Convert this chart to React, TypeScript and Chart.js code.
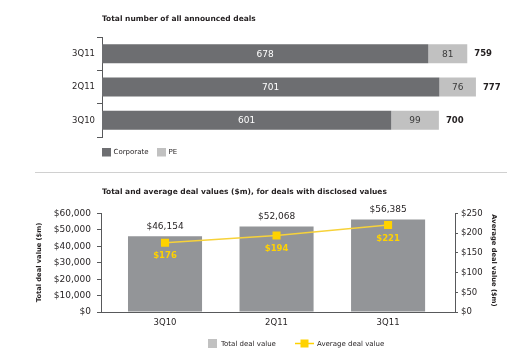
import React, { useEffect, useRef } from 'react';
import { Chart, registerables } from 'chart.js';

Chart.register(...registerables);

// ---- Data ----
const dealQuarters = ['3Q11', '2Q11', '3Q10'];
const corporateDeals = [678, 701, 601];
const peDeals = [81, 76, 99];

const valueQuarters = ['3Q10', '2Q11', '3Q11'];
const totalDealValue = [46154, 52068, 56385];
const averageDealValue = [176, 194, 221];

const leftTicks = [0, 10000, 20000, 30000, 40000, 50000, 60000];
const rightTicks = [0, 50, 100, 150, 200, 250];

const FONT = '"DejaVu Sans", Verdana, sans-serif';
const DARK = '#6d6e71';
const LIGHT = '#c1c1c1';
const BAR = '#939598';
const YELLOW = '#ffd200';
const AXIS = '#58595b';
const TEXT = '#231f20';

const fmt = (v: number) => '$' + v.toLocaleString('en-US');

const topDecor = {
  id: 'topDecor',
  afterDraw(chart: any) {
    const ctx = chart.ctx;
    const a = chart.chartArea;
    ctx.save();
    ctx.textBaseline = 'middle';
    ctx.textAlign = 'left';
    ctx.fillStyle = TEXT;
    ctx.font = `bold 7.5px ${FONT}`;
    ctx.fillText('Total number of all announced deals', a.left, 19);

    const m0 = chart.getDatasetMeta(0);
    const m1 = chart.getDatasetMeta(1);
    ctx.font = `9px ${FONT}`;
    ctx.textAlign = 'center';
    m0.data.forEach((el: any, i: number) => {
      const p = el.getProps(['x', 'y', 'base'], true);
      ctx.fillStyle = '#ffffff';
      ctx.fillText(String(corporateDeals[i]), (p.x + p.base) / 2, p.y + 0.5);
    });
    m1.data.forEach((el: any, i: number) => {
      const p = el.getProps(['x', 'y', 'base'], true);
      ctx.fillStyle = '#3a3a3a';
      ctx.fillText(String(peDeals[i]), (p.x + p.base) / 2, p.y + 0.5);
    });
    ctx.font = `bold 8.5px ${FONT}`;
    ctx.textAlign = 'left';
    ctx.fillStyle = TEXT;
    m1.data.forEach((el: any, i: number) => {
      const p = el.getProps(['x', 'y'], true);
      ctx.fillText(String(corporateDeals[i] + peDeals[i]), p.x + 7, p.y + 0.5);
    });

    // legend
    ctx.font = `7px ${FONT}`;
    ctx.fillStyle = DARK;
    ctx.fillRect(a.left, 148, 9, 8.5);
    ctx.fillStyle = TEXT;
    ctx.fillText('Corporate', a.left + 11.5, 152.5);
    ctx.fillStyle = LIGHT;
    ctx.fillRect(a.left + 55, 148, 9, 8.5);
    ctx.fillStyle = TEXT;
    ctx.fillText('PE', a.left + 66.5, 152.5);
    ctx.restore();
  },
};

const bottomDecor = {
  id: 'bottomDecor',
  afterDraw(chart: any) {
    const ctx = chart.ctx;
    const a = chart.chartArea;
    ctx.save();
    ctx.textBaseline = 'middle';
    ctx.textAlign = 'left';
    ctx.fillStyle = TEXT;
    ctx.font = `bold 7.5px ${FONT}`;
    ctx.fillText('Total and average deal values ($m), for deals with disclosed values', a.left + 1, 20);

    // axis titles
    ctx.font = `bold 6.7px ${FONT}`;
    ctx.textAlign = 'center';
    ctx.save();
    ctx.translate(39, 90.5);
    ctx.rotate(-Math.PI / 2);
    ctx.fillText('Total deal value ($m)', 0, 0);
    ctx.restore();
    ctx.save();
    ctx.translate(494, 88.5);
    ctx.rotate(Math.PI / 2);
    ctx.fillText('Average deal value ($m)', 0, 0);
    ctx.restore();

    // bar labels
    const mb = chart.getDatasetMeta(1);
    ctx.font = `9px ${FONT}`;
    ctx.fillStyle = TEXT;
    mb.data.forEach((el: any, i: number) => {
      const p = el.getProps(['x', 'y'], true);
      ctx.fillText(fmt(totalDealValue[i]), p.x, p.y - 9.5);
    });
    // line labels
    const ml = chart.getDatasetMeta(0);
    ctx.font = `bold 8.5px ${FONT}`;
    ctx.fillStyle = YELLOW;
    ml.data.forEach((el: any, i: number) => {
      const p = el.getProps(['x', 'y'], true);
      ctx.fillText(fmt(averageDealValue[i]), p.x, p.y + 13.5);
    });

    // legend
    const ly = 171.5;
    ctx.font = `7px ${FONT}`;
    ctx.textAlign = 'left';
    ctx.fillStyle = LIGHT;
    ctx.fillRect(208, ly - 4.5, 9, 9);
    ctx.fillStyle = TEXT;
    ctx.fillText('Total deal value', 221, ly + 0.5);
    ctx.strokeStyle = YELLOW;
    ctx.lineWidth = 1.5;
    ctx.beginPath();
    ctx.moveTo(295, ly);
    ctx.lineTo(314, ly);
    ctx.stroke();
    ctx.fillStyle = YELLOW;
    ctx.fillRect(300.5, ly - 4, 8, 8);
    ctx.fillStyle = TEXT;
    ctx.fillText('Average deal value', 317, ly + 0.5);
    ctx.restore();
  },
};

function TopChart() {
  const ref = useRef<HTMLCanvasElement>(null);
  useEffect(() => {
    const chart = new Chart(ref.current!, {
      type: 'bar',
      data: {
        labels: dealQuarters,
        datasets: [
          { label: 'Corporate', data: corporateDeals, backgroundColor: DARK, categoryPercentage: 1, barPercentage: 0.57 },
          { label: 'PE', data: peDeals, backgroundColor: LIGHT, categoryPercentage: 1, barPercentage: 0.57 },
        ],
      },
      options: {
        indexAxis: 'y',
        animation: false,
        responsive: false,
        events: [],
        layout: { padding: { top: 37, bottom: 35, left: 0, right: 29 } },
        plugins: { legend: { display: false }, tooltip: { enabled: false }, title: { display: false } },
        scales: {
          x: { stacked: true, display: false, min: 0, max: 800 },
          y: {
            stacked: true,
            afterFit: (s: any) => { s.width = 102; },
            grid: { drawOnChartArea: false, drawTicks: true, tickLength: 5, color: AXIS, offset: true },
            border: { display: true, color: AXIS, width: 1 },
            ticks: { color: TEXT, font: { family: FONT, size: 8.5 }, padding: 2 },
          },
        },
      },
      plugins: [topDecor],
    } as any);
    return () => chart.destroy();
  }, []);
  return <canvas ref={ref} width={516} height={172} style={{ position: 'absolute', left: 0, top: 0, width: 516, height: 172 }} />;
}

function BottomChart() {
  const ref = useRef<HTMLCanvasElement>(null);
  useEffect(() => {
    const chart = new Chart(ref.current!, {
      type: 'bar',
      data: {
        datasets: [
          {
            type: 'line',
            label: 'Average deal value',
            data: averageDealValue.map((v, i) => ({ x: i, y: v })),
            yAxisID: 'y1',
            borderColor: '#f7d23a',
            backgroundColor: YELLOW,
            borderWidth: 1.5,
            pointStyle: 'rect',
            pointRadius: 5.7,
            pointBackgroundColor: YELLOW,
            pointBorderColor: YELLOW,
            pointBorderWidth: 0,
            order: 0,
          },
          {
            type: 'bar',
            label: 'Total deal value',
            data: totalDealValue.map((v, i) => ({ x: i, y: v })),
            yAxisID: 'y',
            backgroundColor: BAR,
            categoryPercentage: 1,
            barPercentage: 0.664,
            order: 1,
          },
        ],
      },
      options: {
        animation: false,
        responsive: false,
        events: [],
        layout: { padding: { top: 41.5, bottom: 0, left: 0, right: 0 } },
        plugins: { legend: { display: false }, tooltip: { enabled: false }, title: { display: false } },
        scales: {
          x: {
            type: 'linear',
            min: -0.574,
            max: 2.6,
            offset: false,
            afterFit: (s: any) => { s.height = 41; },
            afterBuildTicks: (s: any) => { s.ticks = valueQuarters.map((_, i) => ({ value: i })); },
            grid: { display: false, drawTicks: false, offset: false },
            border: { display: true, color: AXIS, width: 1 },
            ticks: {
              autoSkip: false,
              color: TEXT,
              font: { family: FONT, size: 8.5 },
              padding: 6,
              maxRotation: 0,
              callback: (v: any) => valueQuarters[v] ?? '',
            },
          },
          y: {
            position: 'left',
            min: 0,
            max: 60000,
            afterFit: (s: any) => { s.width = 101; },
            afterBuildTicks: (s: any) => { s.ticks = leftTicks.map((v) => ({ value: v })); },
            grid: { drawOnChartArea: false, drawTicks: true, tickLength: 4, color: AXIS },
            border: { display: true, color: AXIS, width: 1 },
            ticks: { color: TEXT, font: { family: FONT, size: 9 }, padding: 6, callback: (v: any) => fmt(Number(v)) },
          },
          y1: {
            position: 'right',
            min: 0,
            max: 250,
            afterFit: (s: any) => { s.width = 61; },
            afterBuildTicks: (s: any) => { s.ticks = rightTicks.map((v) => ({ value: v })); },
            grid: { drawOnChartArea: false, drawTicks: true, tickLength: 3, color: AXIS },
            border: { display: true, color: AXIS, width: 1 },
            ticks: { color: TEXT, font: { family: FONT, size: 8.5 }, padding: 3, callback: (v: any) => fmt(Number(v)) },
          },
        },
      },
      plugins: [bottomDecor],
    } as any);
    return () => chart.destroy();
  }, []);
  return <canvas ref={ref} width={516} height={181} style={{ position: 'absolute', left: 0, top: 172, width: 516, height: 181 }} />;
}

export default function App() {
  return (
    <div style={{ position: 'fixed', left: 0, top: 0, width: 516, height: 353, background: '#ffffff', overflow: 'hidden' }}>
      <TopChart />
      <div style={{ position: 'absolute', left: 35, top: 172, width: 472, height: 1, background: '#d0d0d0' }} />
      <BottomChart />
    </div>
  );
}
